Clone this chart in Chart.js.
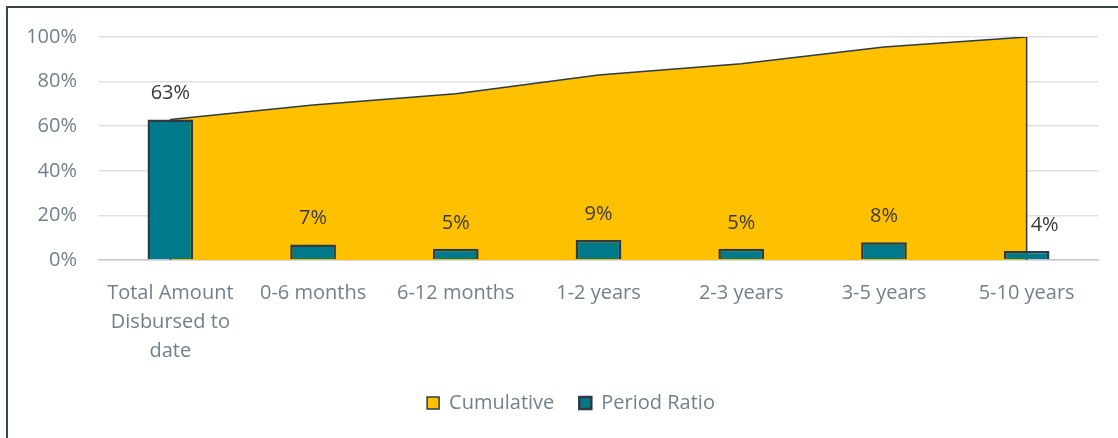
<!DOCTYPE html>
<html>
<head>
<meta charset="utf-8">
<script src="https://cdn.jsdelivr.net/npm/chart.js@4.4.0/dist/chart.umd.min.js"></script>
<style>
  html, body { margin: 0; padding: 0; background: #fff; }
  #wrap { position: relative; width: 1118px; height: 438px; overflow: hidden; }
  #frame { position: absolute; left: 6px; top: 6px; width: 1200px; height: 500px;
           border: 2px solid #3a464f; box-sizing: border-box; pointer-events: none; }
  canvas { position: absolute; left: 0; top: 0; }
</style>
</head>
<body>
<div id="wrap">
  <canvas id="MyChart" width="1118" height="438"></canvas>
  <div id="frame"></div>
</div>
<script>
const categories = [
    ['Total Amount', 'Disbursed to', 'date'],
    '0-6 months', '6-12 months', '1-2 years', '2-3 years', '3-5 years', '5-10 years'
];
const periodRatio = [63, 7, 5, 9, 5, 8, 4];
const cumulative = [63, 69.5, 74.5, 83, 88, 95.5, 100];
const yTicks = [0, 20, 40, 60, 80, 100];

const FONT = '"Open Sans", Lato, sans-serif';
const GREY = '#71818c';
const OUTLINE = '#2f3b44';

// Excel draws the area as a closed polygon, so add the end edges
const areaEdges = {
    id: 'areaEdges',
    afterDatasetDraw(chart, args) {
        if (args.index !== 0) return;
        const pts = args.meta.data;
        const y0 = chart.scales.y.getPixelForValue(0);
        const ctx = chart.ctx;
        ctx.save();
        ctx.strokeStyle = OUTLINE;
        ctx.lineWidth = 1.5;
        [pts[0], pts[pts.length - 1]].forEach(p => {
            ctx.beginPath();
            ctx.moveTo(p.x, p.y);
            ctx.lineTo(p.x, y0);
            ctx.stroke();
        });
        ctx.restore();
    }
};

const barLabels = {
    id: 'barLabels',
    afterDatasetsDraw(chart) {
        const meta = chart.getDatasetMeta(1);
        const ctx = chart.ctx;
        ctx.save();
        ctx.font = '20px ' + FONT;
        ctx.fillStyle = '#3a3a3a';
        ctx.textAlign = 'center';
        ctx.textBaseline = 'middle';
        meta.data.forEach((bar, i) => {
            const last = i === meta.data.length - 1;
            ctx.fillText(periodRatio[i] + '%', bar.x + (last ? 18 : 0), bar.y - 26);
        });
        ctx.restore();
    }
};

// the Excel legend sits a bit right of the canvas centre
const legendShift = {
    id: 'legendShift',
    afterLayout(chart) { chart.legend.left += 44; }
};

new Chart(document.getElementById('MyChart').getContext('2d'), {
    type: 'bar',
    data: {
        labels: categories,
        datasets: [
            {
                type: 'line',
                label: 'Cumulative',
                data: cumulative,
                backgroundColor: '#FFC000',
                borderColor: OUTLINE,
                borderWidth: 1.5,
                fill: 'origin',
                tension: 0,
                pointRadius: 0,
                order: 2
            },
            {
                type: 'bar',
                label: 'Period Ratio',
                data: periodRatio,
                backgroundColor: '#007A8A',
                borderColor: OUTLINE,
                borderWidth: 2.5,
                barPercentage: 0.32,
                categoryPercentage: 1,
                order: 1
            }
        ]
    },
    options: {
        responsive: false,
        animation: false,
        layout: { padding: { left: 0, right: 20, top: 37, bottom: 15 } },
        scales: {
            x: {
                grid: { display: false },
                border: { display: true, color: '#c8c8c8', width: 1.5 },
                ticks: {
                    color: GREY,
                    font: { family: FONT, size: 20, lineHeight: 1.45 },
                    padding: 11,
                    maxRotation: 0,
                    autoSkip: false
                },
                afterFit(scale) { scale.height = 108; }
            },
            y: {
                min: 0,
                max: 100,
                afterBuildTicks(scale) { scale.ticks = yTicks.map(v => ({ value: v })); },
                grid: { color: '#dcdfe3', lineWidth: 1.5, drawTicks: false },
                border: { display: false },
                ticks: {
                    color: GREY,
                    font: { family: FONT, size: 20 },
                    padding: 22,
                    callback: v => v + '%'
                },
                afterFit(scale) { scale.width = 99; }
            }
        },
        plugins: {
            legend: {
                position: 'bottom',
                labels: {
                    color: GREY,
                    font: { family: FONT, size: 20 },
                    boxWidth: 12,
                    boxHeight: 12,
                    padding: 25,
                    sort: (a, b) => a.datasetIndex - b.datasetIndex
                }
            },
            tooltip: { enabled: false }
        }
    },
    plugins: [areaEdges, barLabels, legendShift]
});
</script>
</body>
</html>
